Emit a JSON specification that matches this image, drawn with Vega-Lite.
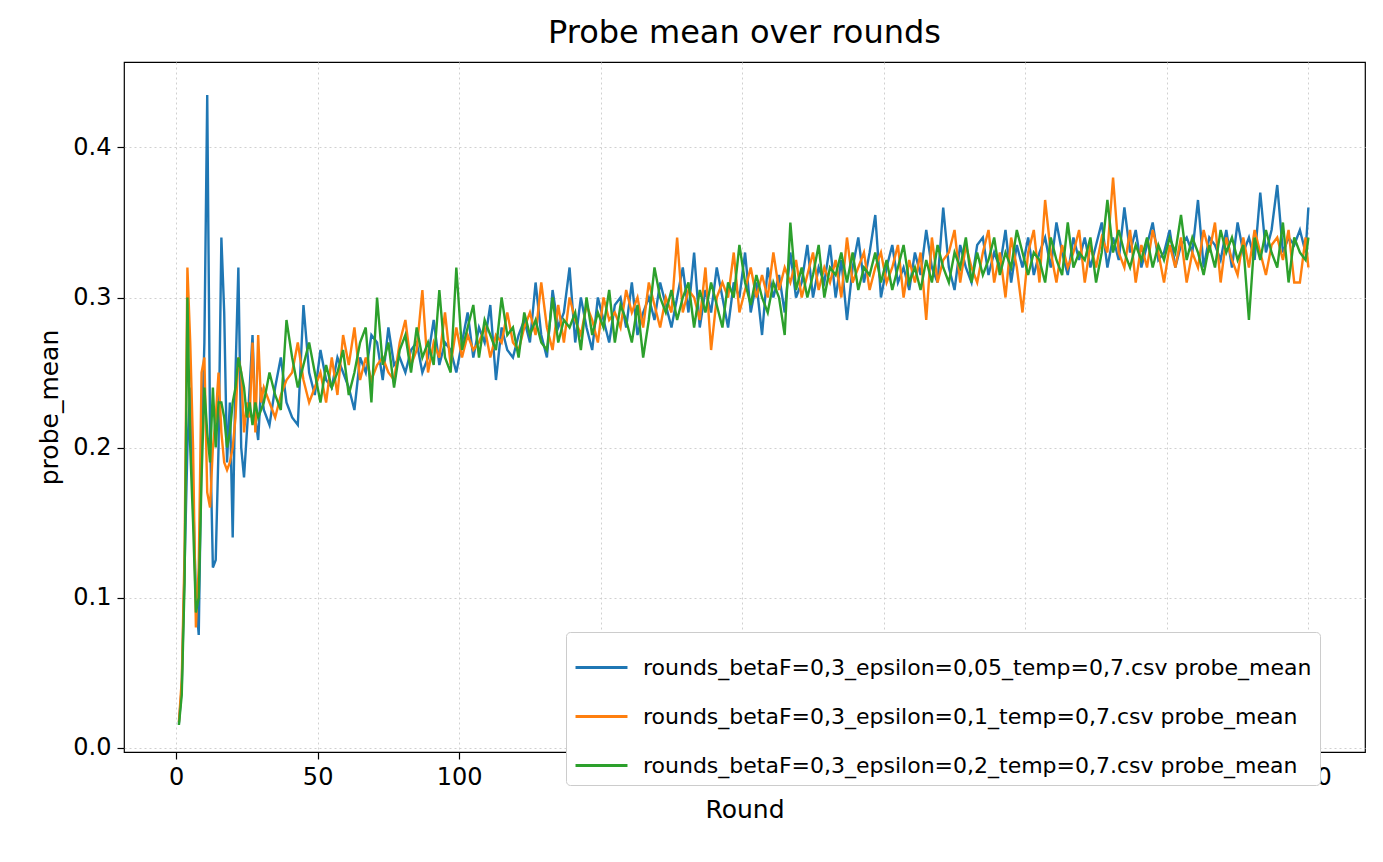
{
  "$schema": "https://vega.github.io/schema/vega-lite/v6.json",
  "width": 1241,
  "height": 690,
  "autosize": {"type": "none"},
  "padding": {"left": 124, "top": 62, "right": 18, "bottom": 110},
  "background": "white",
  "config": {
    "font": "DejaVu Sans",
    "view": {"stroke": "black", "strokeWidth": 1.2}
  },
  "title": {"text": "Probe mean over rounds", "fontSize": 32, "fontWeight": "normal", "font": "DejaVu Sans", "offset": 12, "color": "black"},
  "data": {
    "values": [
      {"r":1,"a":0.016,"b":0.017,"c":0.015},{"r":2,"a":0.04,"b":0.045,"c":0.035},{"r":3,"a":0.12,"b":0.13,"c":0.11},
      {"r":4,"a":0.2,"b":0.32,"c":0.3},{"r":5,"a":0.24,"b":0.27,"c":0.2},{"r":6,"a":0.17,"b":0.2,"c":0.15},
      {"r":7,"a":0.1,"b":0.08,"c":0.09},{"r":8,"a":0.075,"b":0.12,"c":0.1},{"r":9,"a":0.2,"b":0.25,"c":0.18},
      {"r":10,"a":0.27,"b":0.26,"c":0.24},{"r":11,"a":0.435,"b":0.17,"c":0.21},{"r":12,"a":0.21,"b":0.16,"c":0.19},
      {"r":13,"a":0.12,"b":0.2,"c":0.24},{"r":14,"a":0.125,"b":0.22,"c":0.2},{"r":15,"a":0.2,"b":0.25,"c":0.23},
      {"r":16,"a":0.34,"b":0.21,"c":0.23},{"r":17,"a":0.29,"b":0.19,"c":0.22},{"r":18,"a":0.19,"b":0.185,"c":0.2},
      {"r":19,"a":0.23,"b":0.19,"c":0.21},{"r":20,"a":0.14,"b":0.2,"c":0.23},{"r":21,"a":0.25,"b":0.22,"c":0.24},
      {"r":22,"a":0.32,"b":0.26,"c":0.26},{"r":23,"a":0.2,"b":0.25,"c":0.25},{"r":24,"a":0.18,"b":0.21,"c":0.24},
      {"r":25,"a":0.21,"b":0.23,"c":0.22},{"r":26,"a":0.24,"b":0.22,"c":0.23},{"r":27,"a":0.275,"b":0.27,"c":0.215},
      {"r":28,"a":0.22,"b":0.21,"c":0.23},{"r":29,"a":0.205,"b":0.275,"c":0.22},{"r":30,"a":0.24,"b":0.23,"c":0.225},
      {"r":31,"a":0.225,"b":0.24,"c":0.23},{"r":33,"a":0.215,"b":0.23,"c":0.25},{"r":35,"a":0.24,"b":0.22,"c":0.235},
      {"r":37,"a":0.26,"b":0.235,"c":0.225},{"r":39,"a":0.23,"b":0.245,"c":0.285},{"r":41,"a":0.22,"b":0.25,"c":0.26},
      {"r":43,"a":0.215,"b":0.27,"c":0.24},{"r":45,"a":0.295,"b":0.245,"c":0.255},{"r":47,"a":0.25,"b":0.23,"c":0.27},
      {"r":49,"a":0.235,"b":0.24,"c":0.25},{"r":51,"a":0.265,"b":0.25,"c":0.23},{"r":53,"a":0.245,"b":0.23,"c":0.255},
      {"r":55,"a":0.24,"b":0.26,"c":0.24},{"r":57,"a":0.26,"b":0.235,"c":0.25},{"r":59,"a":0.25,"b":0.275,"c":0.265},
      {"r":61,"a":0.24,"b":0.255,"c":0.235},{"r":63,"a":0.225,"b":0.28,"c":0.25},{"r":65,"a":0.26,"b":0.245,"c":0.27},
      {"r":67,"a":0.25,"b":0.26,"c":0.28},{"r":69,"a":0.275,"b":0.245,"c":0.23},{"r":71,"a":0.27,"b":0.255,"c":0.3},
      {"r":73,"a":0.245,"b":0.26,"c":0.255},{"r":75,"a":0.28,"b":0.25,"c":0.27},{"r":77,"a":0.255,"b":0.245,"c":0.24},
      {"r":79,"a":0.26,"b":0.27,"c":0.265},{"r":81,"a":0.25,"b":0.285,"c":0.275},{"r":83,"a":0.265,"b":0.255,"c":0.25},
      {"r":85,"a":0.27,"b":0.265,"c":0.28},{"r":87,"a":0.25,"b":0.305,"c":0.26},{"r":89,"a":0.26,"b":0.25,"c":0.27},
      {"r":91,"a":0.285,"b":0.27,"c":0.255},{"r":93,"a":0.255,"b":0.26,"c":0.305},{"r":95,"a":0.27,"b":0.29,"c":0.26},
      {"r":97,"a":0.265,"b":0.255,"c":0.25},{"r":99,"a":0.25,"b":0.28,"c":0.32},{"r":101,"a":0.27,"b":0.26,"c":0.265},
      {"r":103,"a":0.29,"b":0.275,"c":0.28},{"r":105,"a":0.26,"b":0.265,"c":0.295},{"r":107,"a":0.28,"b":0.27,"c":0.26},
      {"r":109,"a":0.27,"b":0.28,"c":0.285},{"r":111,"a":0.295,"b":0.26,"c":0.275},{"r":113,"a":0.245,"b":0.275,"c":0.265},
      {"r":115,"a":0.28,"b":0.27,"c":0.3},{"r":117,"a":0.265,"b":0.29,"c":0.275},{"r":119,"a":0.26,"b":0.27,"c":0.28},
      {"r":121,"a":0.275,"b":0.265,"c":0.26},{"r":123,"a":0.285,"b":0.28,"c":0.29},{"r":125,"a":0.27,"b":0.29,"c":0.275},
      {"r":127,"a":0.31,"b":0.275,"c":0.285},{"r":129,"a":0.275,"b":0.31,"c":0.27},{"r":131,"a":0.26,"b":0.28,"c":0.265},
      {"r":133,"a":0.305,"b":0.265,"c":0.3},{"r":135,"a":0.28,"b":0.295,"c":0.27},{"r":137,"a":0.29,"b":0.27,"c":0.285},
      {"r":139,"a":0.32,"b":0.3,"c":0.28},{"r":141,"a":0.27,"b":0.285,"c":0.29},{"r":143,"a":0.3,"b":0.275,"c":0.265},
      {"r":145,"a":0.28,"b":0.295,"c":0.3},{"r":147,"a":0.265,"b":0.285,"c":0.275},{"r":149,"a":0.3,"b":0.27,"c":0.29},
      {"r":151,"a":0.285,"b":0.3,"c":0.28},{"r":153,"a":0.27,"b":0.285,"c":0.305},{"r":155,"a":0.295,"b":0.29,"c":0.27},
      {"r":157,"a":0.3,"b":0.28,"c":0.295},{"r":159,"a":0.28,"b":0.305,"c":0.285},{"r":161,"a":0.31,"b":0.29,"c":0.27},
      {"r":163,"a":0.275,"b":0.3,"c":0.295},{"r":165,"a":0.29,"b":0.28,"c":0.26},{"r":167,"a":0.3,"b":0.31,"c":0.285},
      {"r":169,"a":0.285,"b":0.295,"c":0.32},{"r":171,"a":0.31,"b":0.28,"c":0.3},{"r":173,"a":0.295,"b":0.3,"c":0.29},
      {"r":175,"a":0.28,"b":0.29,"c":0.305},{"r":177,"a":0.3,"b":0.34,"c":0.285},{"r":179,"a":0.32,"b":0.29,"c":0.3},
      {"r":181,"a":0.29,"b":0.305,"c":0.31},{"r":183,"a":0.33,"b":0.3,"c":0.28},{"r":185,"a":0.28,"b":0.285,"c":0.305},
      {"r":187,"a":0.305,"b":0.32,"c":0.29},{"r":189,"a":0.29,"b":0.265,"c":0.31},{"r":191,"a":0.32,"b":0.3,"c":0.295},
      {"r":193,"a":0.3,"b":0.31,"c":0.28},{"r":195,"a":0.28,"b":0.3,"c":0.31},{"r":197,"a":0.31,"b":0.33,"c":0.3},
      {"r":199,"a":0.3,"b":0.29,"c":0.335},{"r":201,"a":0.33,"b":0.305,"c":0.31},{"r":203,"a":0.29,"b":0.32,"c":0.295},
      {"r":205,"a":0.31,"b":0.3,"c":0.315},{"r":207,"a":0.275,"b":0.315,"c":0.3},{"r":209,"a":0.32,"b":0.3,"c":0.29},
      {"r":211,"a":0.3,"b":0.33,"c":0.31},{"r":213,"a":0.315,"b":0.305,"c":0.3},{"r":215,"a":0.29,"b":0.32,"c":0.275},
      {"r":217,"a":0.33,"b":0.31,"c":0.35},{"r":219,"a":0.3,"b":0.325,"c":0.305},{"r":221,"a":0.31,"b":0.3,"c":0.32},
      {"r":223,"a":0.335,"b":0.315,"c":0.3},{"r":225,"a":0.3,"b":0.33,"c":0.315},{"r":227,"a":0.32,"b":0.305,"c":0.335},
      {"r":229,"a":0.31,"b":0.32,"c":0.3},{"r":231,"a":0.335,"b":0.31,"c":0.32},{"r":233,"a":0.3,"b":0.325,"c":0.315},
      {"r":235,"a":0.325,"b":0.3,"c":0.33},{"r":237,"a":0.285,"b":0.34,"c":0.31},{"r":239,"a":0.32,"b":0.31,"c":0.33},
      {"r":241,"a":0.34,"b":0.32,"c":0.305},{"r":243,"a":0.31,"b":0.33,"c":0.32},{"r":245,"a":0.33,"b":0.305,"c":0.315},
      {"r":247,"a":0.355,"b":0.32,"c":0.33},{"r":249,"a":0.3,"b":0.33,"c":0.31},{"r":251,"a":0.32,"b":0.31,"c":0.325},
      {"r":253,"a":0.335,"b":0.32,"c":0.305},{"r":255,"a":0.31,"b":0.335,"c":0.32},{"r":257,"a":0.32,"b":0.3,"c":0.335},
      {"r":259,"a":0.305,"b":0.325,"c":0.31},{"r":261,"a":0.33,"b":0.31,"c":0.32},{"r":263,"a":0.315,"b":0.33,"c":0.305},
      {"r":265,"a":0.345,"b":0.285,"c":0.325},{"r":267,"a":0.32,"b":0.34,"c":0.31},{"r":269,"a":0.31,"b":0.31,"c":0.335},
      {"r":271,"a":0.36,"b":0.325,"c":0.32},{"r":273,"a":0.32,"b":0.33,"c":0.31},{"r":275,"a":0.305,"b":0.345,"c":0.33},
      {"r":277,"a":0.335,"b":0.31,"c":0.32},{"r":279,"a":0.32,"b":0.335,"c":0.34},{"r":281,"a":0.31,"b":0.32,"c":0.31},
      {"r":283,"a":0.335,"b":0.31,"c":0.33},{"r":285,"a":0.34,"b":0.33,"c":0.315},{"r":287,"a":0.315,"b":0.345,"c":0.325},
      {"r":289,"a":0.33,"b":0.31,"c":0.34},{"r":291,"a":0.32,"b":0.33,"c":0.315},{"r":293,"a":0.345,"b":0.3,"c":0.33},
      {"r":295,"a":0.31,"b":0.34,"c":0.32},{"r":297,"a":0.335,"b":0.32,"c":0.345},{"r":299,"a":0.32,"b":0.29,"c":0.33},
      {"r":301,"a":0.34,"b":0.33,"c":0.315},{"r":303,"a":0.315,"b":0.345,"c":0.33},{"r":305,"a":0.33,"b":0.31,"c":0.325},
      {"r":307,"a":0.34,"b":0.365,"c":0.31},{"r":309,"a":0.32,"b":0.33,"c":0.34},{"r":311,"a":0.35,"b":0.31,"c":0.325},
      {"r":313,"a":0.33,"b":0.335,"c":0.315},{"r":315,"a":0.315,"b":0.32,"c":0.35},{"r":317,"a":0.34,"b":0.33,"c":0.32},
      {"r":319,"a":0.325,"b":0.345,"c":0.33},{"r":321,"a":0.34,"b":0.31,"c":0.325},{"r":323,"a":0.32,"b":0.335,"c":0.34},
      {"r":325,"a":0.335,"b":0.32,"c":0.31},{"r":327,"a":0.35,"b":0.34,"c":0.33},{"r":329,"a":0.32,"b":0.33,"c":0.365},
      {"r":331,"a":0.34,"b":0.38,"c":0.33},{"r":333,"a":0.325,"b":0.33,"c":0.345},{"r":335,"a":0.36,"b":0.32,"c":0.33},
      {"r":337,"a":0.33,"b":0.345,"c":0.32},{"r":339,"a":0.345,"b":0.31,"c":0.335},{"r":341,"a":0.32,"b":0.335,"c":0.325},
      {"r":343,"a":0.335,"b":0.32,"c":0.34},{"r":345,"a":0.35,"b":0.345,"c":0.32},{"r":347,"a":0.325,"b":0.33,"c":0.335},
      {"r":349,"a":0.33,"b":0.31,"c":0.325},{"r":351,"a":0.345,"b":0.335,"c":0.34},{"r":353,"a":0.32,"b":0.32,"c":0.33},
      {"r":355,"a":0.335,"b":0.34,"c":0.355},{"r":357,"a":0.34,"b":0.31,"c":0.325},{"r":359,"a":0.33,"b":0.33,"c":0.34},
      {"r":361,"a":0.365,"b":0.32,"c":0.33},{"r":363,"a":0.32,"b":0.345,"c":0.315},{"r":365,"a":0.34,"b":0.33,"c":0.335},
      {"r":367,"a":0.335,"b":0.35,"c":0.32},{"r":369,"a":0.325,"b":0.31,"c":0.345},{"r":371,"a":0.345,"b":0.34,"c":0.33},
      {"r":373,"a":0.32,"b":0.325,"c":0.34},{"r":375,"a":0.35,"b":0.315,"c":0.325},{"r":377,"a":0.33,"b":0.34,"c":0.335},
      {"r":379,"a":0.34,"b":0.32,"c":0.285},{"r":381,"a":0.325,"b":0.345,"c":0.34},{"r":383,"a":0.37,"b":0.33,"c":0.325},
      {"r":385,"a":0.33,"b":0.315,"c":0.345},{"r":387,"a":0.345,"b":0.335,"c":0.33},{"r":389,"a":0.375,"b":0.34,"c":0.32},
      {"r":391,"a":0.33,"b":0.325,"c":0.35},{"r":393,"a":0.34,"b":0.345,"c":0.31},{"r":395,"a":0.335,"b":0.31,"c":0.34},
      {"r":397,"a":0.345,"b":0.31,"c":0.33},{"r":399,"a":0.33,"b":0.34,"c":0.325},{"r":400,"a":0.36,"b":0.32,"c":0.34}
    ]
  },
  "transform": [{"fold": ["a", "b", "c"], "as": ["series", "value"]}],
  "mark": {"type": "line", "strokeWidth": 2.4, "clip": true},
  "encoding": {
    "x": {
      "field": "r", "type": "quantitative",
      "scale": {"domain": [-18.4, 420], "nice": false, "zero": false},
      "axis": {"title": "Round", "values": [0, 50, 100, 150, 200, 250, 300, 350, 400], "format": "d",
        "grid": true, "gridDash": [2, 3], "gridColor": "#d0d0d0", "domain": false,
        "tickColor": "black", "tickSize": 7, "tickWidth": 1.2, "labelFontSize": 24, "labelColor": "black", "labelPadding": 6,
        "titleFontSize": 25, "titleFontWeight": "normal", "titleColor": "black", "titlePadding": 8}
    },
    "y": {
      "field": "value", "type": "quantitative",
      "scale": {"domain": [-0.003, 0.457], "nice": false, "zero": false},
      "axis": {"title": "probe_mean", "values": [0, 0.1, 0.2, 0.3, 0.4], "format": ".1f",
        "grid": true, "gridDash": [2, 3], "gridColor": "#d0d0d0", "domain": false,
        "tickColor": "black", "tickSize": 7, "tickWidth": 1.2, "labelFontSize": 24, "labelColor": "black", "labelPadding": 6,
        "titleFontSize": 25, "titleFontWeight": "normal", "titleColor": "black", "titlePadding": 10}
    },
    "color": {
      "field": "series", "type": "nominal",
      "scale": {"domain": ["a", "b", "c"], "range": ["#1f77b4", "#ff7f0e", "#2ca02c"]},
      "legend": {
        "title": null, "orient": "none", "legendX": 442, "legendY": 570,
        "labelExpr": "datum.label == 'a' ? 'rounds_betaF=0,3_epsilon=0,05_temp=0,7.csv probe_mean' : datum.label == 'b' ? 'rounds_betaF=0,3_epsilon=0,1_temp=0,7.csv probe_mean' : 'rounds_betaF=0,3_epsilon=0,2_temp=0,7.csv probe_mean'",
        "symbolType": "stroke", "symbolStrokeWidth": 3, "symbolSize": 2700,
        "labelFontSize": 22, "labelColor": "black", "labelLimit": 1000, "labelOffset": 14, "rowPadding": 10,
        "strokeColor": "#cccccc", "fillColor": "white", "cornerRadius": 4, "padding": 8
      }
    }
  }
}
